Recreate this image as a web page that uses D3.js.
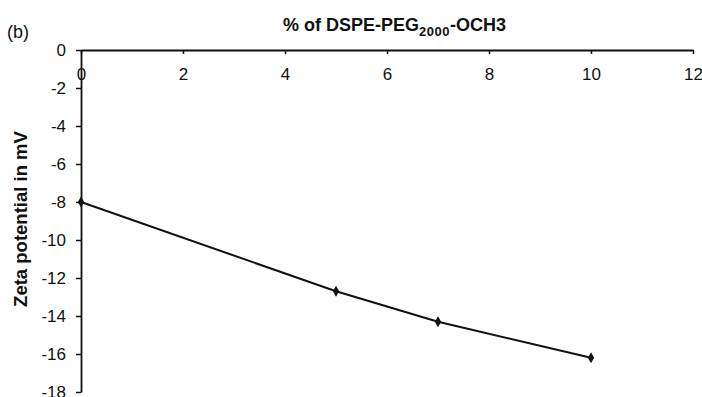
<!DOCTYPE html>
<html>
<head>
<meta charset="utf-8">
<script src="https://cdn.jsdelivr.net/npm/d3@7"></script>
<style>
  body { margin: 0; background: #fff; }
  svg { display: block; font-family: "Liberation Sans", Arial, sans-serif; }
</style>
</head>
<body>
<svg id="chart" width="702" height="397"></svg>
<script>
// data
const pegPercent = [0, 5, 7, 10];
const zetaValues = [-8.0, -12.7, -14.3, -16.2];
const xTicks = [0, 2, 4, 6, 8, 10, 12];
const yTicks = [0, -2, -4, -6, -8, -10, -12, -14, -16, -18];

const margin = { top: 50, left: 81 };
const innerWidth = 612;
const innerHeight = 342;
const textColor = "#111";
const tickFont = "\"Liberation Sans Narrow\", \"Arial Narrow\", \"Liberation Sans\", sans-serif";

const svg = d3.select("#chart");

const xScale = d3.scaleLinear()
  .domain([0, 12])
  .range([0, innerWidth]);
const yScale = d3.scaleLinear()
  .domain([0, -18])
  .range([0, innerHeight]);

const innerChart = svg
  .append("g")
    .attr("transform", `translate(${margin.left}, ${margin.top})`);

// x axis sits at the top (y = 0) with its labels hanging below
const xAxis = d3.axisBottom(xScale)
  .tickValues(xTicks)
  .tickFormat(d => String(d))
  .tickSize(4)
  .tickPadding(14)
  .tickSizeOuter(0);
const xAxisGroup = innerChart
  .append("g")
    .attr("class", "x-axis")
    .call(xAxis);

const yAxis = d3.axisLeft(yScale)
  .tickValues(yTicks)
  .tickFormat(d => String(d))
  .tickSize(5)
  .tickPadding(10)
  .tickSizeOuter(0);
const yAxisGroup = innerChart
  .append("g")
    .attr("class", "y-axis")
    .call(yAxis);

[xAxisGroup, yAxisGroup].forEach(g => {
  g.select(".domain").attr("stroke", textColor).attr("stroke-width", 1.8);
  g.selectAll(".tick line").attr("stroke", textColor).attr("stroke-width", 1.5);
  g.selectAll(".tick text")
    .style("font-family", tickFont)
    .style("font-size", "17px")
    .style("fill", textColor);
});

// series
const points = pegPercent.map((p, i) => ({ x: p, y: zetaValues[i] }));

const lineGenerator = d3.line()
  .x(d => xScale(d.x))
  .y(d => yScale(d.y));

innerChart
  .append("path")
    .attr("d", lineGenerator(points))
    .attr("fill", "none")
    .attr("stroke", textColor)
    .attr("stroke-width", 2);

innerChart
  .selectAll(".marker")
  .data(points)
  .join("path")
    .attr("class", "marker")
    .attr("transform", d => `translate(${xScale(d.x)}, ${yScale(d.y)})`)
    .attr("d", d3.symbol(d3.symbolDiamond, 34))
    .attr("fill", textColor);

// titles
const title = svg
  .append("text")
    .attr("x", 283)
    .attr("y", 31)
    .style("font-size", "18px")
    .style("font-weight", 700)
    .style("fill", textColor);
title.append("tspan").text("% of DSPE-PEG");
title.append("tspan")
  .attr("dy", 5)
  .style("font-size", "13px")
  .style("letter-spacing", "0.5px")
  .text("2000");
title.append("tspan")
  .attr("dy", -5)
  .text("-OCH3");

svg
  .append("text")
    .attr("x", 7)
    .attr("y", 38)
    .style("font-size", "18px")
    .style("fill", textColor)
    .text("(b)");

svg
  .append("text")
    .attr("transform", `translate(27, 219) rotate(-90)`)
    .attr("text-anchor", "middle")
    .style("font-size", "18.5px")
    .style("font-weight", 700)
    .style("fill", textColor)
    .text("Zeta potential in mV");
</script>
</body>
</html>
